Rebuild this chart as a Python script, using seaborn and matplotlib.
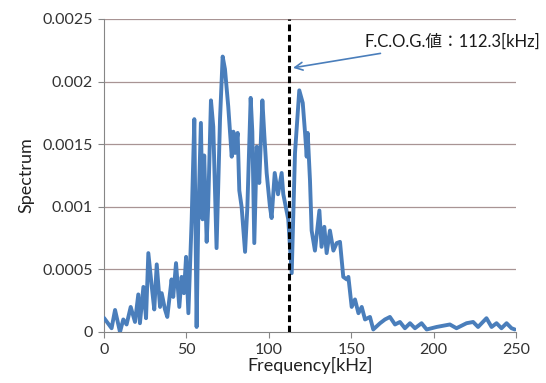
import numpy as np
import pandas as pd
import matplotlib
matplotlib.use("Agg")
import matplotlib.pyplot as plt
import seaborn as sns

# values
freq_khz = [0, 4.6, 6.7, 9.7, 11.7, 13.7, 16.2, 18.8, 20.8, 21.8, 23.9, 25.5, 26.9, 29, 30.5,
            32, 34, 35, 37, 38.4, 41, 42, 43.7, 45.7, 47.1, 48.5, 49.8, 51.2, 53.2, 54.8,
            56.2, 57.2, 58.8, 59.8, 60.8, 62.3, 63.2, 64.9, 66.3, 68.3, 70.4, 72, 73.4,
            75.4, 77.5, 78.5, 79.5, 81.1, 82.1, 83.5, 85.6, 87, 89, 90, 91.2, 92.7, 94.2,
            96.1, 97.3, 98.7, 100.7, 101.7, 103.6, 105.6, 107.8, 108.8, 111.8, 113.9,
            115.9, 118.5, 120.6, 122, 123, 123.6, 125, 126, 128, 130.7, 132, 133.7, 135.1,
            137.1, 139.2, 141.2, 143.2, 145.2, 147.3, 148.3, 150.3, 152.3, 154.4, 156.4,
            158.4, 161.4, 163.4, 167.5, 170.5, 173.5, 176.6, 179.6, 182.6, 185.7, 188.7,
            192.7, 195.8, 201.8, 209.9, 213.9, 220, 224, 227, 232.1, 235.2, 238.2, 241.2,
            244.3, 247.3, 249.3]
spectrum = [0.000112, 0.00003, 0.000176, 0.0, 0.0001, 0.00006, 0.0002, 0.00008, 0.0003,
            0.00007, 0.00036, 0.00011, 0.00063, 0.00036, 0.00018, 0.00054, 0.0002, 0.00031,
            0.00018, 0.00012, 0.00042, 0.00028, 0.00055, 0.0002, 0.00044, 0.00031, 0.0006,
            0.00015, 0.0009, 0.0017, 0.00004, 0.0009, 0.00167, 0.0009, 0.00141, 0.00072,
            0.001, 0.00185, 0.00164, 0.00067, 0.0017, 0.0022, 0.0021, 0.0018, 0.0014,
            0.0016, 0.00143, 0.00159, 0.00113, 0.001, 0.00064, 0.001, 0.00187, 0.0016,
            0.00071, 0.00148, 0.00119, 0.00185, 0.00157, 0.00127, 0.001, 0.00091, 0.00127,
            0.0011, 0.00127, 0.0011, 0.0009, 0.00047, 0.00143, 0.00193, 0.00183, 0.00159,
            0.0014, 0.00159, 0.00121, 0.00081, 0.00065, 0.00097, 0.00068, 0.00084, 0.00063,
            0.00081, 0.00065, 0.00071, 0.00072, 0.00044, 0.00042, 0.00044, 0.0002, 0.00026,
            0.00015, 0.0002, 0.0001, 0.00012, 0.00002, 0.00007, 0.0001, 0.00012, 0.00006,
            0.00008, 0.00003, 0.00007, 0.00003, 0.00007, 0.00002, 0.00004, 0.00006, 0.00003,
            0.00007, 0.00008, 0.00004, 0.00011, 0.00004, 0.00007, 0.00003, 0.00007, 0.00003,
            0.00002]
fcog = 112.3
x_ticks = [0, 50, 100, 150, 200, 250]
y_ticks = [0, 0.0005, 0.001, 0.0015, 0.002, 0.0025]
y_labels = ["0", "0.0005", "0.001", "0.0015", "0.002", "0.0025"]

df = pd.DataFrame({"Frequency[kHz]": freq_khz, "Spectrum": spectrum})

sns.set_style("white")
plt.rcParams["font.family"] = ["Lato", "Noto Sans CJK JP", "DejaVu Sans"]

fig = plt.figure(figsize=(5.46, 3.83), dpi=100)
ax = fig.add_axes([0.1905, 0.1332, 0.7545, 0.8172])

for yv in y_ticks[1:]:
    ax.axhline(yv, color="#a89494", lw=0.9, zorder=0)

sns.lineplot(data=df, x="Frequency[kHz]", y="Spectrum", ax=ax, color="#4a7ebb",
             lw=2.8, solid_joinstyle="round", solid_capstyle="round", zorder=3)
ax.axvline(fcog, color="black", lw=2.2, ls=(0, (2.2, 1.2)), zorder=4)

ax.annotate("F.C.O.G.値：112.3[kHz]", xy=(114.7, 0.00211), xytext=(158, 0.00232),
            fontsize=12, va="center", ha="left", color="#1a1a1a",
            arrowprops=dict(arrowstyle="->", color="#4a7ebb", lw=1.2,
                            shrinkA=2, shrinkB=0, mutation_scale=14))

ax.set_xlim(0, 250)
ax.set_ylim(0, 0.0025)
ax.set_xticks(x_ticks)
ax.set_yticks(y_ticks)
ax.set_yticklabels(y_labels)
ax.tick_params(axis="both", labelsize=11.5, colors="#333333", length=4, width=0.8,
               color="#868686", direction="out", left=True, bottom=True, pad=4)
ax.set_xlabel("Frequency[kHz]", fontsize=13, labelpad=0, color="#222222")
ax.set_ylabel("Spectrum", fontsize=13, labelpad=6, color="#222222")

for side in ["top", "right"]:
    ax.spines[side].set_visible(False)
ax.spines["left"].set_color("#868686")
ax.spines["bottom"].set_color("#868686")
ax.spines["left"].set_linewidth(0.8)
ax.spines["bottom"].set_linewidth(0.8)

fig.savefig("out.png", dpi=100)
